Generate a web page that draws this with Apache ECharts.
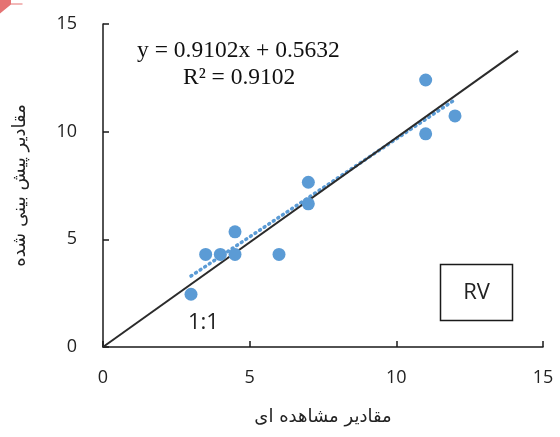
<!DOCTYPE html>
<html>
<head>
<meta charset="utf-8">
<script src="https://cdn.jsdelivr.net/npm/echarts@6/dist/echarts.min.js"></script>
<style>
  html, body { margin: 0; padding: 0; background: #fff; }
  #chart { width: 560px; height: 437px; }
</style>
</head>
<body>
<div id="chart"></div>
<script>
// Observed vs. predicted RV values
const observed  = [3, 3.5, 4, 4.5, 4.5, 6, 7, 7, 11, 11, 12];
const predicted = [2.45, 4.3, 4.3, 4.3, 5.35, 4.3, 6.65, 7.65, 12.4, 9.9, 10.73];

// Linear fit reported on the chart
const slope = 0.9102;
const intercept = 0.5632;
const rSquared = 0.9102;
const fitRange = [3, 12];

// Reference line end point
const refLine = [[0, 0], [14.15, 13.75]];

const axisTicks = [0, 5, 10, 15];
const xTitle = 'مقادیر مشاهده ای';
const yTitle = 'مقادیر پیش بینی شده';

const points = observed.map((x, i) => [x, predicted[i]]);
const fitLine = fitRange.map(x => [x, slope * x + intercept]);

const chart = echarts.init(document.getElementById('chart'));

const axisCommon = {
  type: 'value',
  min: axisTicks[0],
  max: axisTicks[axisTicks.length - 1],
  interval: axisTicks[1] - axisTicks[0],
  splitLine: { show: false },
  axisLine: { show: true, onZero: false, lineStyle: { color: '#1a1a1a', width: 1.5 } },
  axisTick: { show: true, inside: true, length: 6, lineStyle: { color: '#1a1a1a', width: 1.5 } },
  axisLabel: { color: '#222', fontSize: 18, fontFamily: 'Open Sans, Liberation Sans, sans-serif' },
  nameLocation: 'middle',
  nameTextStyle: { color: '#222', fontSize: 18, fontFamily: 'DejaVu Sans, sans-serif' }
};

chart.setOption({
  animation: false,
  backgroundColor: '#fff',
  grid: { left: 103, right: 17, top: 24, bottom: 90 },
  xAxis: Object.assign({}, axisCommon, {
    name: xTitle,
    nameGap: 61,
    axisLabel: Object.assign({}, axisCommon.axisLabel, { margin: 22 })
  }),
  yAxis: Object.assign({}, axisCommon, {
    name: yTitle,
    nameGap: 74,
    nameRotate: 90,
    axisLabel: Object.assign({}, axisCommon.axisLabel, { margin: 26 })
  }),
  series: [
    {
      name: '1:1',
      type: 'line',
      data: refLine,
      symbol: 'none',
      lineStyle: { color: '#2b2b2b', width: 2 },
      z: 3
    },
    {
      name: 'trend',
      type: 'line',
      data: fitLine,
      symbol: 'none',
      lineStyle: { color: '#5b9bd5', width: 3.5, type: [1, 4.5], cap: 'round' },
      z: 2
    },
    {
      name: 'RV',
      type: 'scatter',
      data: points,
      symbolSize: 13,
      itemStyle: { color: '#5b9bd5', opacity: 1 },
      z: 4
    }
  ],
  graphic: [
    {
      type: 'text',
      left: 137, top: 39,
      style: {
        text: 'y = ' + slope.toFixed(4) + 'x + ' + intercept.toFixed(4),
        font: '23.5px "Liberation Serif", serif',
        fill: '#111'
      }
    },
    {
      type: 'text',
      left: 183, top: 66,
      style: {
        text: 'R² = ' + rSquared.toFixed(4),
        font: '23.5px "Liberation Serif", serif',
        fill: '#111'
      }
    },
    {
      type: 'text',
      left: 188, top: 312,
      style: {
        text: '1:1',
        font: '22px "Open Sans", "Liberation Sans", sans-serif',
        fill: '#222'
      }
    },
    {
      type: 'rect',
      shape: { x: 440.5, y: 264.5, width: 72, height: 56 },
      style: { fill: '#fff', stroke: '#1a1a1a', lineWidth: 1.5 },
      z: 10
    },
    {
      type: 'text',
      x: 476.5, y: 293,
      style: {
        text: 'RV',
        font: '22px "Open Sans", "Liberation Sans", sans-serif',
        fill: '#222',
        align: 'center',
        verticalAlign: 'middle'
      },
      z: 11
    },
    {
      type: 'polygon',
      shape: { points: [[0, 0], [11, 0], [11, 3.5], [22.5, 3.5], [22.5, 4.5], [11, 4.5], [0, 13.5]] },
      style: { fill: '#e57373' }
    }
  ]
});
</script>
</body>
</html>
